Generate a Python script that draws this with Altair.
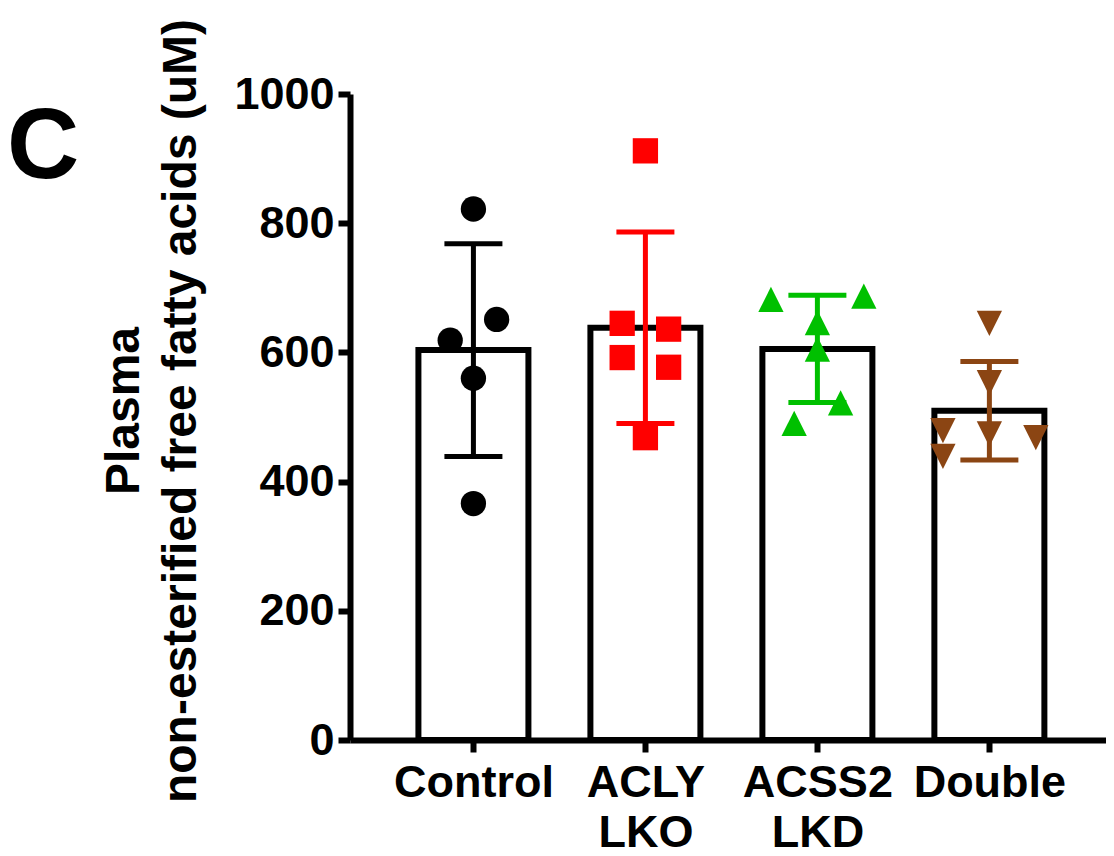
import altair as alt
import pandas as pd

# ---- data ----
groups = ["Control", "ACLY LKO", "ACSS2 LKD", "Double"]
control_vals = [822, 651, 619, 560, 366]
acly_vals = [912, 645, 636, 592, 577, 468]
acss2_vals = [682, 687, 646, 605, 522, 490]
double_vals = [645, 553, 479, 474, 468, 439]
# horizontal scatter column of each point (GraphPad style spreading)
control_slot = [0, 1, -1, 0, 0]
acly_slot = [0, -1, 1, -1, 1, 0]
acss2_slot = [-2, 2, 0, 0, 1, -1]
double_slot = [0, 0, -2, 0, 2, -2]
y_ticks = [0, 200, 400, 600, 800, 1000]
colors = ["#000000", "#FF0000", "#00C000", "#8B4513"]
shapes = ["circle", "square", "M0,-1L1,1L-1,1Z", "M-1,-1L1,-1L0,1Z"]
panel_letter = "C"
y_title = "Plasma\nnon-esterified free fatty acids (uM)"

rows = []
for i, (g, vals, slots) in enumerate(zip(
        groups,
        [control_vals, acly_vals, acss2_vals, double_vals],
        [control_slot, acly_slot, acss2_slot, double_slot])):
    for v, s in zip(vals, slots):
        rows.append({"group": g, "idx": i, "value": v, "slot": s})
df = pd.DataFrame(rows)

FONT = "Liberation Sans"
JITTER = 0.135  # category-width fraction per scatter column

name_array = "[" + ",".join("'" + g + "'" for g in groups) + "]"
x_scale = alt.Scale(domain=[-0.6885, 3.649], nice=False, zero=False)
y_scale = alt.Scale(domain=[0, 1000], nice=False)
color_enc = alt.Color("group:N", sort=groups,
                      scale=alt.Scale(domain=groups, range=colors), legend=None)

base = alt.Chart(df)

bars = base.mark_bar(width=110, fill="white", stroke="black",
                     strokeWidth=6).encode(
    x=alt.X("idx:Q", scale=x_scale,
            axis=alt.Axis(title=None, values=[0, 1, 2, 3], grid=False,
                          labelAngle=0, labelFlush=False, labelOverlap=False,
                          labelExpr="split(" + name_array + "[datum.value], ' ')",
                          labelLineHeight=50, labelPadding=8,
                          labelBaseline="top")),
    y=alt.Y("mean(value):Q", scale=y_scale,
            axis=alt.Axis(values=y_ticks, title=None, grid=False,
                          format="d", labelPadding=4)),
)

stats = base.transform_aggregate(
    mean="mean(value)", sd="stdev(value)", groupby=["idx", "group"]
).transform_calculate(
    lo="datum.mean - datum.sd", hi="datum.mean + datum.sd"
)

err_rule = stats.mark_rule(strokeWidth=5, opacity=1).encode(
    x=alt.X("idx:Q", scale=x_scale),
    y=alt.Y("lo:Q", scale=y_scale),
    y2="hi:Q",
    color=color_enc,
)

err_caps = stats.transform_fold(["lo", "hi"], as_=["end", "yv"]).mark_tick(
    orient="horizontal", size=58, thickness=5, opacity=1
).encode(
    x=alt.X("idx:Q", scale=x_scale),
    y=alt.Y("yv:Q", scale=y_scale),
    color=color_enc,
)

points = base.transform_calculate(
    xj="datum.idx + datum.slot * " + str(JITTER)
).mark_point(filled=True, opacity=1, size=640).encode(
    x=alt.X("xj:Q", scale=x_scale),
    y=alt.Y("value:Q", scale=y_scale),
    color=color_enc,
    shape=alt.Shape("group:N", sort=groups,
                    scale=alt.Scale(domain=groups, range=shapes), legend=None),
)

letter = alt.Chart(pd.DataFrame({"t": [panel_letter]})).mark_text(
    font=FONT, fontSize=100, fontWeight="bold", align="left",
    baseline="alphabetic", color="black"
).encode(text="t:N", x=alt.value(-343), y=alt.value(84))

ytitle = alt.Chart(pd.DataFrame({"t": [y_title]})).mark_text(
    font=FONT, fontSize=48, fontWeight="bold", align="center",
    baseline="alphabetic", color="black", angle=270, lineBreak="\n",
    lineHeight=57
).encode(text="t:N", x=alt.value(-211), y=alt.value(317))

chart = alt.layer(bars, err_rule, err_caps, points, letter, ytitle).properties(
    width=756, height=646,
    padding={"left": 342, "top": 86, "right": 0, "bottom": 108},
    autosize=alt.AutoSizeParams(type="none"),
).configure_view(stroke=None).configure_axis(
    domainColor="black", domainWidth=6, tickColor="black", tickWidth=6,
    tickSize=12, labelFont=FONT, labelFontSize=45, labelFontWeight="bold",
    labelColor="black", titleFont=FONT, titleFontWeight="bold",
    titleColor="black",
)

chart.save("out.html", embed_options={"renderer": "svg", "actions": False})
